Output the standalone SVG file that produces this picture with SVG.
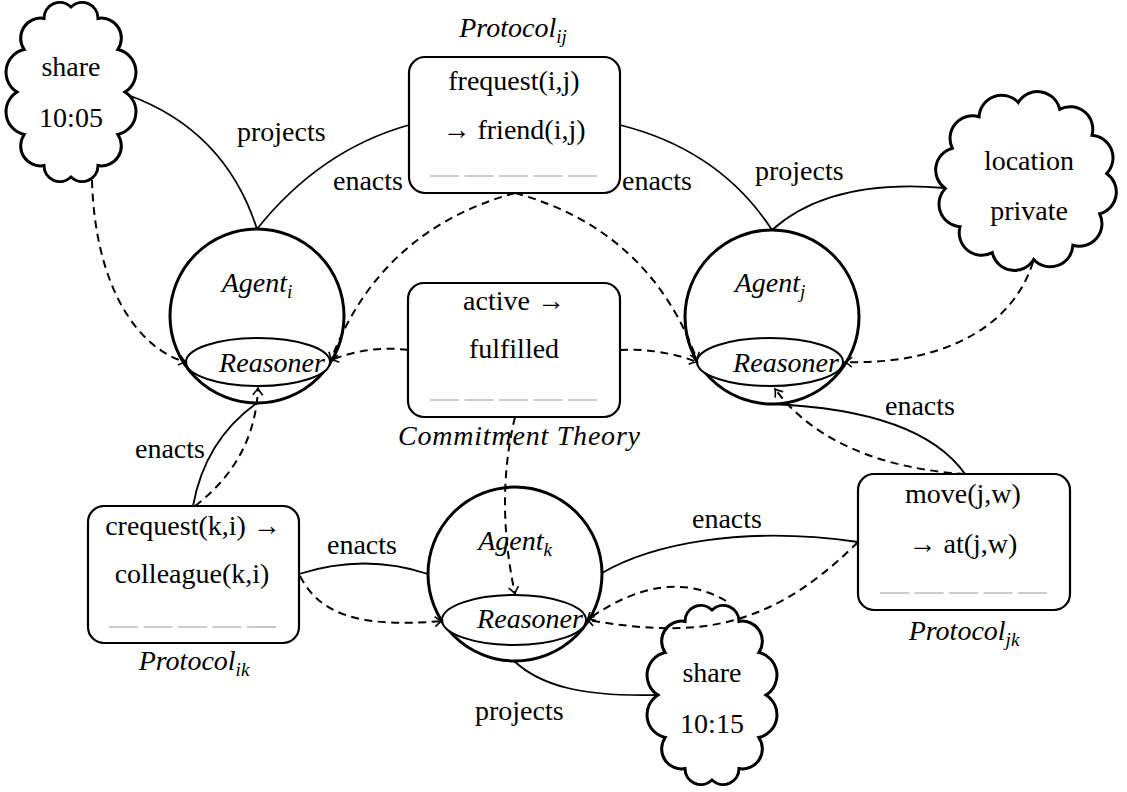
<svg xmlns="http://www.w3.org/2000/svg" width="1127" height="792" viewBox="0 0 1127 792">
<style>
.t{font-family:"Liberation Serif","Times New Roman",Times,"Nimbus Roman","Noto Serif","DejaVu Serif",serif;font-size:28px;fill:#000}
.c{text-anchor:middle}
.it{font-style:italic}
.sub{font-size:19px}
.shape{fill:#fff;stroke:#000}
.agent{stroke-width:3}
.reasoner{stroke-width:2}
.box{stroke-width:2.2}
.cloud{stroke-width:3}
.rule{fill:none;stroke:#9a9a9a;stroke-width:1.2;stroke-dasharray:29 5.5}
.edge{fill:none;stroke:#000;stroke-width:1.8}
.dash{stroke-width:2;stroke-dasharray:8 5.5;marker-end:url(#arr)}
</style>
<defs>
<marker id="arr" markerUnits="userSpaceOnUse" viewBox="-8 -7 10 14" refX="0" refY="0" markerWidth="10" markerHeight="14" orient="auto">
<path d="M-7,-5 Q-2.5,-1 0,0 Q-2.5,1 -7,5" fill="none" stroke="#000" stroke-width="1.6" stroke-dasharray="none"/>
</marker>
<path id="cloudA" d="M54,0 A23.3,23.3 0 0 1 46.8,42.5 A20,20 0 0 1 27,73.6 A15.9,15.9 0 0 1 0,85 A15.9,15.9 0 0 1 -27,73.6 A20,20 0 0 1 -46.8,42.5 A23.3,23.3 0 0 1 -54,0 A23.3,23.3 0 0 1 -46.8,-42.5 A20,20 0 0 1 -27,-73.6 A15.9,15.9 0 0 1 0,-85 A15.9,15.9 0 0 1 27,-73.6 A20,20 0 0 1 46.8,-42.5 A23.3,23.3 0 0 1 54,0 Z"/>
<path id="cloudB" d="M80.7,-7.5 A22.6,22.6 0 0 1 73.7,32.8 A22.6,22.6 0 0 1 46.9,64.3 A22.6,22.6 0 0 1 7.7,78.5 A22.6,22.6 0 0 1 -33.7,71.7 A22.6,22.6 0 0 1 -66,45.7 A22.6,22.6 0 0 1 -80.7,7.5 A22.6,22.6 0 0 1 -73.7,-32.8 A22.6,22.6 0 0 1 -46.9,-64.3 A22.6,22.6 0 0 1 -7.7,-78.5 A22.6,22.6 0 0 1 33.7,-71.7 A22.6,22.6 0 0 1 66,-45.7 A22.6,22.6 0 0 1 80.7,-7.5 Z"/>
</defs>

<g id="cloud-share-1005">
<use href="#cloudA" class="shape cloud" transform="translate(71,92)"/>
<text class="t c" x="71" y="76">share</text>
<text class="t c" x="71" y="127">10:05</text>
</g>
<g id="cloud-location">
<use href="#cloudB" class="shape cloud" transform="translate(1026,181)"/>
<text class="t c" x="1029" y="170">location</text>
<text class="t c" x="1029" y="220">private</text>
</g>
<g id="cloud-share-1015">
<use href="#cloudA" class="shape cloud" transform="translate(712,695)"/>
<text class="t c" x="712" y="682">share</text>
<text class="t c" x="712" y="733">10:15</text>
</g>

<g id="protocol-ij">
<rect class="shape box" x="409" y="57" width="211" height="136" rx="16"/>
<text class="t c" x="514" y="90">frequest(i,j)</text>
<text class="t c" x="514" y="139">→ friend(i,j)</text>
<line class="rule" x1="430" y1="176" x2="598" y2="176"/>
<text class="t c it" x="513" y="37">Protocol<tspan class="sub" dy="6">ij</tspan></text>
</g>
<g id="commitment">
<rect class="shape box" x="408" y="283" width="212" height="134" rx="16"/>
<text class="t c" x="514" y="310">active →</text>
<text class="t c" x="514" y="358">fulfilled</text>
<line class="rule" x1="430" y1="400" x2="598" y2="400"/>
<text class="t c it" x="519" y="445" textLength="242">Commitment Theory</text>
</g>
<g id="protocol-ik">
<rect class="shape box" x="88" y="506" width="211" height="137" rx="16"/>
<text class="t c" x="193" y="535">crequest(k,i) →</text>
<text class="t c" x="192" y="583">colleague(k,i)</text>
<line class="rule" x1="109" y1="627" x2="277" y2="627"/>
<text class="t c it" x="194" y="670">Protocol<tspan class="sub" dy="6">ik</tspan></text>
</g>
<g id="protocol-jk">
<rect class="shape box" x="858" y="474" width="212" height="136" rx="16"/>
<text class="t c" x="963" y="503">move(j,w)</text>
<text class="t c" x="963" y="553">→ at(j,w)</text>
<line class="rule" x1="880" y1="593" x2="1048" y2="593"/>
<text class="t c it" x="964" y="640">Protocol<tspan class="sub" dy="6">jk</tspan></text>
</g>

<g id="agent-i">
<circle class="shape agent" cx="257" cy="316" r="87"/>
<ellipse class="shape reasoner" cx="258" cy="362" rx="72" ry="24"/>
<text class="t c it" x="257" y="292">Agent<tspan class="sub" dy="6">i</tspan></text>
<text class="t c it" x="272" y="372">Reasoner</text>
</g>
<g id="agent-j">
<circle class="shape agent" cx="772" cy="317" r="87"/>
<ellipse class="shape reasoner" cx="770" cy="362" rx="73" ry="24"/>
<text class="t c it" x="770" y="292">Agent<tspan class="sub" dy="6">j</tspan></text>
<text class="t c it" x="786" y="372">Reasoner</text>
</g>
<g id="agent-k">
<circle class="shape agent" cx="515" cy="574" r="87"/>
<ellipse class="shape reasoner" cx="514" cy="620" rx="72" ry="25"/>
<text class="t c it" x="515" y="550">Agent<tspan class="sub" dy="6">k</tspan></text>
<text class="t c it" x="530" y="628">Reasoner</text>
</g>

<g id="connectors">
<path class="edge" d="M128,95 Q225,130 257,229"/>
<path class="edge" d="M257,229 Q320,150 409,125"/>
<path class="edge" d="M620,125 Q720,150 772,230"/>
<path class="edge" d="M772,230 Q830,178 945,188"/>
<path class="edge" d="M193,506 Q205,440 257,403"/>
<path class="edge" d="M428,574 Q365,553 299,574"/>
<path class="edge" d="M602,573 C650,545 740,525 858,542"/>
<path class="edge" d="M771,404 Q920,410 965,474"/>
<path class="edge" d="M514,661 C540,685 580,697 658,695"/>

<path class="edge dash" d="M92,180 C95,290 140,350 186,362"/>
<path class="edge dash" d="M515,193 Q380,230 331,360"/>
<path class="edge dash" d="M515,193 Q650,230 697,360"/>
<path class="edge dash" d="M408,350 Q370,345 331,360"/>
<path class="edge dash" d="M620,350 Q660,348 697,362"/>
<path class="edge dash" d="M515,417 Q495,500 515,594"/>
<path class="edge dash" d="M1033,262 C1010,335 930,365 845,362"/>
<path class="edge dash" d="M965,474 C900,470 820,450 775,389"/>
<path class="edge dash" d="M195,506 Q255,460 258,388"/>
<path class="edge dash" d="M300,576 C320,615 360,628 442,621"/>
<path class="edge dash" d="M726,601 Q665,565 587,620"/>
<path class="edge dash" d="M858,542 C760,640 680,635 587,620"/>
</g>

<g id="edge-labels">
<text class="t" x="237" y="141">projects</text>
<text class="t" x="333" y="190">enacts</text>
<text class="t" x="622" y="190">enacts</text>
<text class="t" x="755" y="180">projects</text>
<text class="t" x="885" y="415">enacts</text>
<text class="t" x="135" y="458">enacts</text>
<text class="t" x="327" y="554">enacts</text>
<text class="t" x="692" y="528">enacts</text>
<text class="t" x="475" y="720">projects</text>
</g>
</svg>
